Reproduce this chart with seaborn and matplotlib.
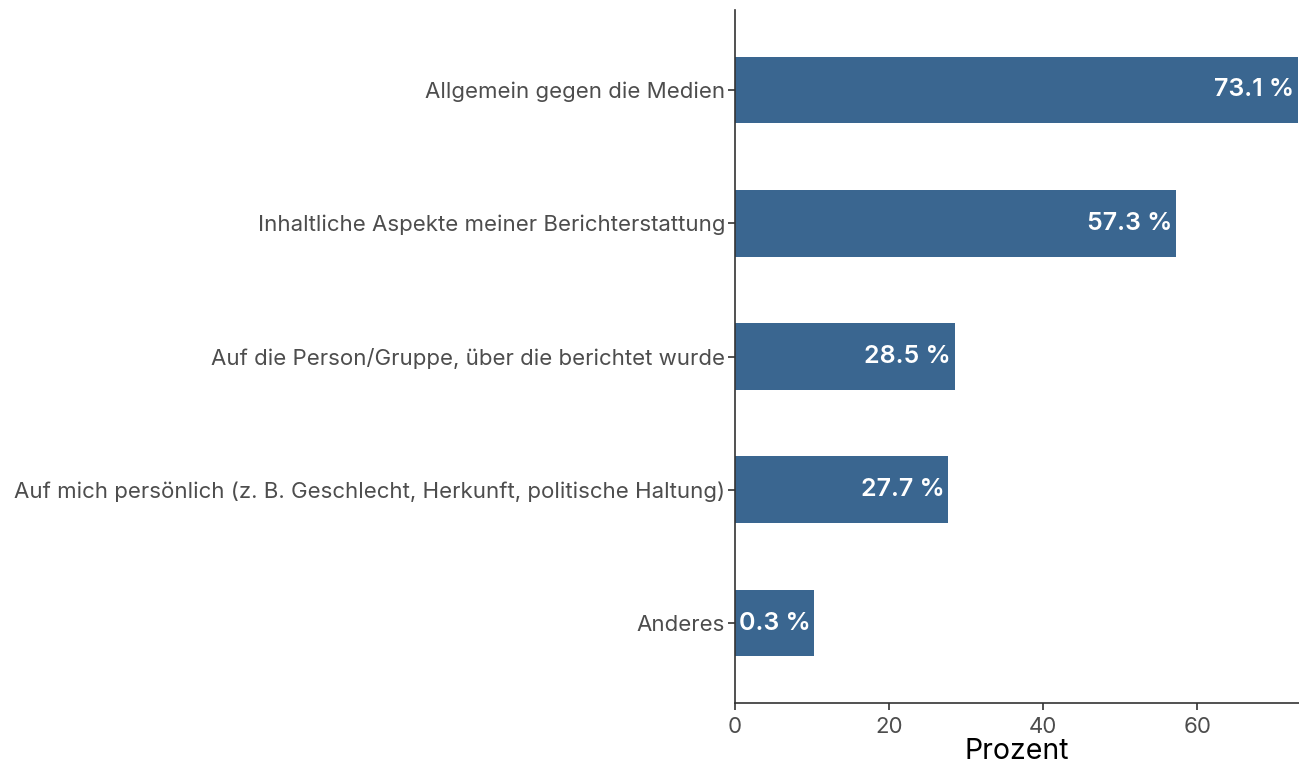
import pandas as pd
import matplotlib.pyplot as plt
import seaborn as sns

# data
kategorien = [
    "Allgemein gegen die Medien",
    "Inhaltliche Aspekte meiner Berichterstattung",
    "Auf die Person/Gruppe, über die berichtet wurde",
    "Auf mich persönlich (z. B. Geschlecht, Herkunft, politische Haltung)",
    "Anderes",
]
prozent = [73.1, 57.3, 28.5, 27.7, 10.3]
beschriftung = ["73.1 %", "57.3 %", "28.5 %", "27.7 %", "0.3 %"]

df = pd.DataFrame({"Kategorie": kategorien, "Prozent": prozent})

sns.set_style("white")
plt.rcParams["font.family"] = ["Inter", "DejaVu Sans"]

fig = plt.figure(figsize=(12.99, 7.67), dpi=100)
ax = fig.add_axes([0.5658, 0.0834, 0.4342, 0.9036])

sns.barplot(data=df, x="Prozent", y="Kategorie", color="#3a6690",
            saturation=1, width=0.5, linewidth=0, ax=ax)

for i, (wert, txt) in enumerate(zip(prozent, beschriftung)):
    ax.text(wert - 0.5, i, txt, ha="right", va="center", color="white",
            fontsize=18, fontweight="semibold")

ax.set_xlim(0, 73.2)
ax.set_ylim(4.6, -0.6)
ax.set_xticks([0, 20, 40, 60])
ax.set_ylabel("")
ax.set_xlabel("Prozent", fontsize=20.5, color="black", labelpad=1)
ax.tick_params(axis="both", labelsize=16, labelcolor="#4d4d4d",
               length=5, width=1.2, color="#333333", left=True, bottom=True)
ax.tick_params(axis="y", pad=2)
ax.tick_params(axis="x", pad=5)
for s in ["top", "right"]:
    ax.spines[s].set_visible(False)
for s in ["left", "bottom"]:
    ax.spines[s].set_color("#333333")
    ax.spines[s].set_linewidth(1.2)

plt.savefig("out.png", dpi=100)
